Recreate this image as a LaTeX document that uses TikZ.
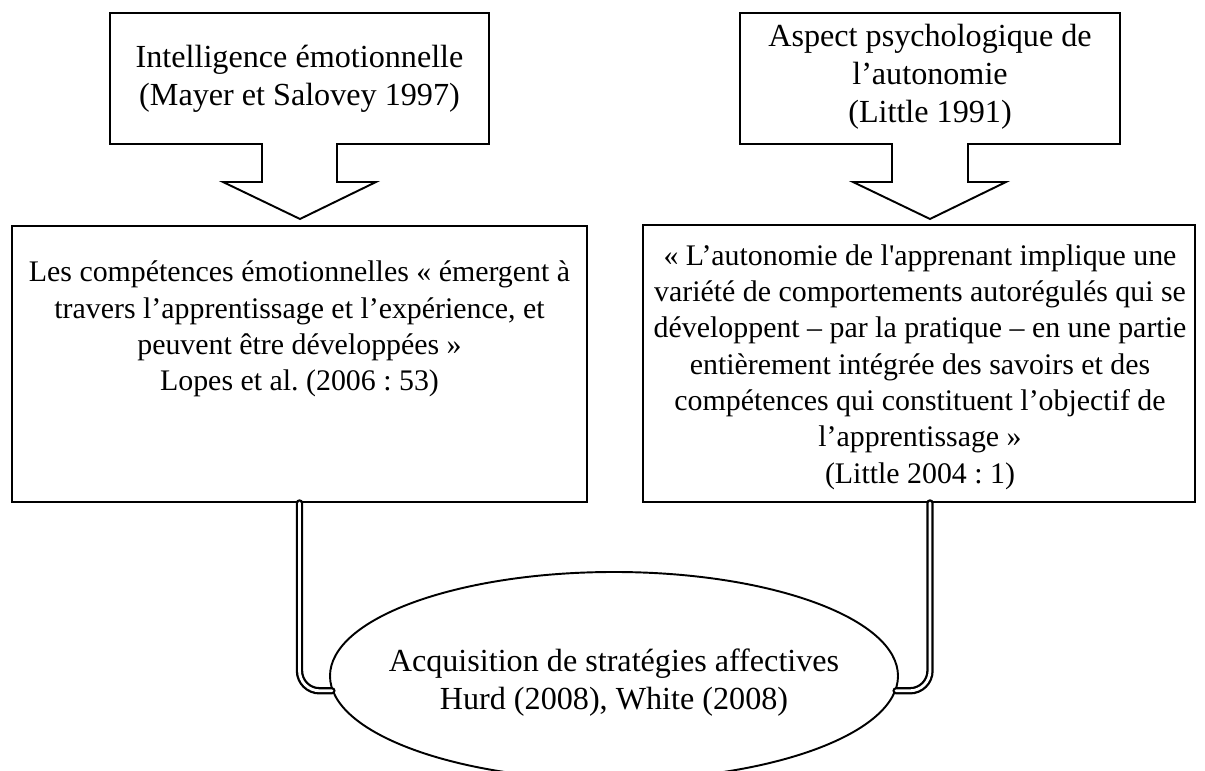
\documentclass[tikz,border=0pt]{standalone}
\usepackage{fontspec}
\setmainfont{Liberation Serif}
\usetikzlibrary{positioning,shapes.geometric}
\frenchspacing
\tikzset{
  frame/.style={draw=black,line width=1.1pt,line join=miter},
  textbox/.style={align=center,inner sep=0pt,font=\fontsize{18.3}{21.6}\selectfont},
  quotebox/.style={align=center,inner sep=0pt,font=\fontsize{17}{20.7}\selectfont},
  rectbox/.style={frame,rectangle,inner sep=0pt},
  goalnode/.style={frame,ellipse,inner sep=0pt,minimum width=11.36cm,minimum height=4.16cm},
  dbllink/.style={draw=black,line width=1.3pt,double=white,double distance=1.6pt,
    line cap=round,rounded corners=0.4cm},
}

\begin{document}
\begin{tikzpicture}[x=1cm,y=1cm]
    \useasboundingbox (0,0) rectangle (24.10,15.42);
    \clip (0,0) rectangle (24.10,15.42);

    % top callouts
    \draw[frame] (2.20,15.16) -- (9.78,15.16) -- (9.78,12.54) -- (6.74,12.54) -- (6.74,11.78) -- (7.52,11.78)
      -- (6.00,11.04) -- (4.46,11.78) -- (5.24,11.78) -- (5.24,12.54) -- (2.20,12.54) -- cycle;
    \node[textbox] (emotitle) at (5.99,13.85) {Intelligence émotionnelle\\(Mayer et Salovey 1997)};

    \draw[frame] (14.80,15.16) -- (22.40,15.16) -- (22.40,12.54) -- (19.36,12.54) -- (19.36,11.78) -- (20.12,11.78)
      -- (18.60,11.04) -- (17.06,11.78) -- (17.84,11.78) -- (17.84,12.54) -- (14.80,12.54) -- cycle;
    \coordinate (autotip) at (18.60,11.04);
    \node[textbox] (autotitle) at (18.60,13.88) {Aspect psychologique de\\l’autonomie\\(Little 1991)};

    % quotation boxes
    \node[rectbox,minimum width=11.50cm,minimum height=5.52cm] (emorect) at (5.99,8.14) {};
    \node[quotebox] (emotext) at (5.99,8.84) {Les compétences émotionnelles « émergent à\\travers l’apprentissage et l’expérience, et\\peuvent être développées »\\Lopes et al. (2006 : 53)};

    \node[rectbox,minimum width=11.04cm,minimum height=5.54cm] (autorect) at (18.38,8.15) {};
    \node[quotebox] (autotext) at (18.40,8.08) {« L’autonomie de l\textquotesingle apprenant implique une\\variété de comportements autorégulés qui se\\développent – par la pratique – en une partie\\entièrement intégrée des savoirs et des\\compétences qui constituent l’objectif de\\l’apprentissage »\\(Little 2004 : 1)};

    % goal
    \node[goalnode] (goal) at (12.28,1.90) {};
    \node[textbox] (goaltext) at (12.28,1.76) {Acquisition de stratégies affectives\\Hurd (2008), White (2008)};

    \draw[dbllink] (emorect.south) |- (goal.183);
    \draw[dbllink] (autorect.south -| autotip) |- (goal.357);
  \end{tikzpicture}
\end{document}
